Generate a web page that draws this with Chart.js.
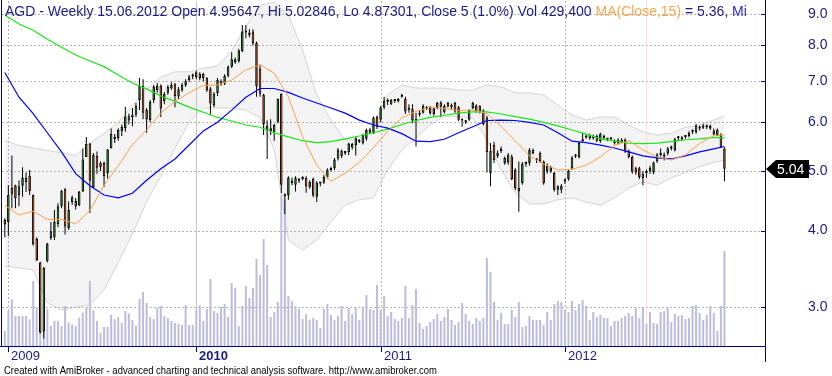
<!DOCTYPE html>
<html>
<head>
<meta charset="utf-8">
<title>AGD - Weekly</title>
<script src="https://cdn.jsdelivr.net/npm/chart.js@4.4.1/dist/chart.umd.min.js"></script>
<style>
html, body { margin: 0; padding: 0; background: #fff; }
#wrap { width: 832px; height: 376px; }
</style>
</head>
<body>
<div id="wrap"><canvas id="chart" width="832" height="376"></canvas></div>
<script>
/*****************************  Data  *********************************/
var yearStarts = [1, 54, 106, 158];
var yearLabels = ['2009', '2010', '2011', '2012'];
var priceTicks = [3, 4, 5, 6, 7, 8, 9];
var selectedWeek = 181;

// weekly candles, 26.12.2008 .. 16.11.2012
var opens = [
	4.16,4.13,4.58,4.74,4.57,4.73,4.80,4.91,4.57,3.88,
	3.55,2.74,3.57,3.89,3.90,4.10,4.38,4.67,4.04,4.45,
	4.47,4.40,4.63,5.27,5.54,4.71,5.29,5.15,5.15,4.96,
	5.45,5.68,5.65,5.80,5.87,6.14,6.12,6.17,6.52,6.88,
	6.29,6.05,6.52,6.77,6.88,6.50,6.70,6.81,6.92,6.61,
	6.77,6.90,7.03,7.12,7.24,7.19,7.19,7.08,6.81,6.40,
	6.69,7.00,6.93,7.14,7.39,7.51,7.55,7.83,8.40,8.32,
	8.43,8.08,7.34,6.65,5.83,5.87,5.79,6.01,6.67,4.57,
	4.56,4.82,4.75,4.82,4.87,4.87,4.71,4.85,4.54,4.77,
	4.79,4.89,5.02,5.05,5.24,5.39,5.35,5.37,5.53,5.51,
	5.58,5.55,5.64,5.84,5.77,6.13,6.06,6.34,6.48,6.52,
	6.50,6.49,6.60,6.55,6.29,6.31,6.03,6.17,6.22,6.35,
	6.35,6.32,6.33,6.46,6.23,6.37,6.35,6.45,6.35,6.05,
	6.01,6.06,6.33,6.39,6.37,6.27,6.11,4.96,5.51,5.29,
	5.44,5.15,5.16,5.28,5.02,4.63,4.78,5.13,5.14,5.41,
	5.20,5.35,5.18,4.99,5.07,4.96,4.66,4.66,4.81,4.85,
	5.05,5.28,5.27,5.59,5.67,5.65,5.70,5.70,5.59,5.66,
	5.62,5.63,5.60,5.55,5.62,5.62,5.39,5.27,5.05,5.05,
	4.87,4.95647,5.00,4.97,5.19,5.31,5.28,5.34,5.44,5.41,
	5.65,5.63,5.68,5.70,5.79,5.78,5.87,5.93,5.90,5.86,
	5.82,5.72,5.72,5.44
];
var highs = [
	4.19,4.74,5.30,4.75,4.83,5.07,4.97,5.02,4.58,3.90,
	3.56,3.49,3.82,4.13,4.32,4.43,4.66,4.69,4.46,4.56,
	4.52,4.64,5.44,5.68,5.55,5.35,5.38,5.18,5.18,5.43,
	5.86,5.74,5.87,5.95,6.36,6.20,6.33,6.45,7.08,7.05,
	6.33,6.52,6.90,6.95,6.92,6.72,6.90,6.97,6.95,6.85,
	6.95,7.05,7.16,7.20,7.28,7.24,7.22,7.10,6.85,6.72,
	7.08,7.05,7.18,7.42,7.80,7.65,7.90,8.64,8.64,8.50,
	8.50,8.12,7.44,6.68,6.04,6.07,5.97,6.56,6.69,4.60,
	4.90,4.88,4.90,4.87,4.90,4.90,4.83,4.88,4.81,4.80,
	4.92,5.05,5.08,5.25,5.45,5.42,5.39,5.56,5.56,5.68,
	5.63,5.75,5.86,5.87,6.13,6.15,6.38,6.60,6.56,6.55,
	6.55,6.57,6.68,6.60,6.42,6.42,6.22,6.28,6.42,6.38,
	6.38,6.35,6.48,6.50,6.42,6.48,6.44,6.48,6.38,6.08,
	6.05,6.30,6.48,6.42,6.40,6.30,6.15,5.55,5.58,5.40,
	5.48,5.28,5.35,5.32,5.05,5.18,5.17,5.18,5.45,5.44,
	5.25,5.38,5.20,5.14,5.10,4.98,4.74,4.76,4.86,5.02,
	5.29,5.33,5.58,5.77,5.72,5.75,5.73,5.73,5.77,5.73,
	5.66,5.67,5.63,5.65,5.65,5.65,5.42,5.30,5.08,5.08,
	5.00,5.02846,5.10,5.18,5.35,5.44,5.36,5.47,5.50,5.66,
	5.70,5.70,5.72,5.80,5.84,5.97,5.93,5.97,5.95,5.95,
	5.86,5.86,5.76,5.46
];
var lows = [
	3.90,3.92,4.35,4.35,4.38,4.54,4.62,4.57,3.78,3.57,
	2.72,2.67,3.55,3.86,3.86,4.05,4.35,3.94,4.01,4.40,
	4.33,4.38,4.62,5.27,4.27,4.69,4.95,5.00,4.71,4.86,
	5.44,5.55,5.60,5.70,5.79,5.95,5.91,6.12,6.28,6.07,
	5.77,6.00,6.45,6.70,6.12,6.42,6.65,6.78,6.35,6.55,
	6.72,6.85,6.98,7.05,7.05,7.02,7.00,6.72,6.17,6.35,
	6.62,6.88,6.90,7.10,7.35,7.47,7.50,7.80,8.22,8.25,
	8.00,6.60,6.60,5.72,5.23,5.72,5.60,5.98,4.60,4.25,
	4.49,4.74,4.63,4.78,4.83,4.61,4.68,4.53,4.45,4.72,
	4.76,4.86,5.00,5.02,5.20,5.25,5.31,5.31,5.42,5.30,
	5.55,5.52,5.60,5.74,5.74,5.85,6.00,6.30,6.40,6.40,
	6.45,6.46,6.58,6.19,6.22,5.98,5.48,6.13,6.20,6.28,
	6.17,6.15,6.30,6.12,6.20,6.34,6.30,6.22,6.03,5.90,
	5.96,6.03,6.30,6.22,6.20,5.93,4.97,4.72,5.15,5.25,
	5.35,5.12,5.12,4.83,4.65,4.29,4.75,5.08,5.10,5.32,
	5.15,5.15,4.75,4.95,4.96,4.63,4.57,4.60,4.76,4.82,
	5.02,5.25,5.24,5.58,5.64,5.62,5.62,5.57,5.56,5.63,
	5.59,5.60,5.52,5.52,5.55,5.35,5.24,4.95,4.93,4.85,
	4.74,4.87301,4.95,4.94,5.15,5.28,5.20,5.30,5.40,5.38,
	5.60,5.60,5.64,5.67,5.74,5.75,5.82,5.85,5.85,5.83,
	5.71,5.70,5.45,4.81
];
var closes = [
	4.09,4.57,4.69,4.52,4.72,4.88,4.87,4.64,3.80,3.58,
	2.73,3.48,3.81,3.99,4.13,4.38,4.64,4.06,4.32,4.53,
	4.38,4.63,5.22,5.53,4.82,5.31,5.06,5.07,4.90,5.42,
	5.74,5.63,5.83,5.90,6.13,6.04,6.13,6.38,6.88,6.22,
	6.07,6.48,6.86,6.88,6.32,6.67,6.85,6.90,6.62,6.79,
	6.90,7.00,7.12,7.13,7.11,7.08,7.08,6.77,6.44,6.67,
	7.03,6.93,7.14,7.39,7.60,7.60,7.85,8.43,8.43,8.40,
	8.07,6.87,6.68,5.96,5.92,5.81,5.94,6.55,4.75,4.55,
	4.88,4.78,4.88,4.83,4.85,4.72,4.80,4.56,4.79,4.78,
	4.89,5.02,5.05,5.22,5.41,5.29,5.36,5.54,5.46,5.65,
	5.59,5.72,5.83,5.77,6.11,5.90,6.34,6.50,6.49,6.43,
	6.51,6.55,6.64,6.25,6.31,6.04,6.04,6.18,6.38,6.31,
	6.21,6.19,6.45,6.36,6.38,6.45,6.40,6.25,6.06,6.04,
	6.00,6.28,6.45,6.25,6.25,5.96,5.37,5.39,5.21,5.35,
	5.39,5.25,5.31,4.85,4.69,4.69,5.14,5.14,5.41,5.35,
	5.21,5.18,4.78,5.11,4.99,4.66,4.72,4.73,4.83,5.00,
	5.26,5.29,5.55,5.63,5.68,5.72,5.65,5.60,5.74,5.70,
	5.63,5.63,5.55,5.62,5.58,5.38,5.27,4.99,4.97,4.89,
	4.95,5.00,5.06,5.16,5.32,5.35,5.32,5.44,5.46,5.63,
	5.66,5.67,5.69,5.77,5.80,5.93,5.86,5.88,5.89,5.92,
	5.74,5.83,5.47,5.04
];
var volumes = [
	289000,674000,899000,578000,578000,578000,578000,514000,1251000,737000,
	700000,900000,706000,385000,481000,481000,385000,770000,449000,417000,
	385000,545000,642000,737000,1251000,687000,481000,256000,366000,366000,
	597000,514000,558000,449000,674000,622000,500000,385000,905000,1040000,
	828000,558000,520000,731000,770000,578000,539000,481000,443000,424000,
	404000,789000,404000,404000,693000,789000,481000,712000,1290000,674000,
	635000,751000,809000,558000,1213000,1117000,385000,770000,1155000,924000,
	1117000,1675000,1367000,2060000,1559000,558000,655000,847000,2900000,2800000,
	963000,866000,770000,712000,520000,616000,500000,539000,500000,346000,
	712000,809000,597000,500000,578000,770000,481000,731000,616000,731000,
	500000,731000,982000,712000,693000,1174000,693000,963000,578000,655000,
	520000,481000,539000,1155000,539000,789000,1097000,443000,327000,385000,
	462000,520000,616000,481000,558000,712000,500000,404000,462000,828000,
	616000,481000,424000,539000,481000,539000,1694000,1425000,847000,500000,
	635000,424000,424000,693000,558000,847000,366000,385000,578000,500000,
	500000,500000,404000,655000,500000,809000,866000,847000,693000,655000,
	866000,693000,809000,886000,770000,500000,655000,558000,597000,539000,
	539000,385000,481000,481000,539000,578000,635000,578000,731000,539000,
	731000,429400,655000,443000,424000,655000,674000,731000,462000,616000,
	578000,597000,520000,539000,770000,789000,635000,500000,597000,770000,
	635000,289000,770000,1829000
];

// overlay lines, read every 4th week
var lineWeeks = [0,4,8,12,16,20,24,28,32,36,40,44,48,52,56,60,64,68,72,76,80,84,88,92,96,100,
	104,108,112,116,120,124,128,132,136,140,144,148,152,156,160,164,168,172,176,180,184,188,192,196,200,203];
var ma15 = [4.40,4.24,4.30,4.17,4.17,4.10,4.31,4.74,5.10,5.52,5.83,6.21,6.49,6.70,6.89,6.90,7.03,7.30,7.44,7.21,
	6.60,5.69,5.11,4.81,4.96,5.16,5.46,5.80,6.10,6.25,6.35,6.32,6.27,6.28,6.20,5.91,5.60,5.29,5.13,5.02,
	5.03,5.11,5.27,5.50,5.60,5.41,5.27,5.21,5.31,5.54,5.71,5.72];
var maBlue = [7.23,6.59,6.20,5.77,5.37,4.95,4.73,4.57,4.52,4.60,4.83,5.04,5.23,5.51,5.81,6.00,6.28,6.59,6.81,6.81,
	6.71,6.57,6.45,6.33,6.21,6.05,5.94,5.87,5.75,5.59,5.58,5.63,5.77,5.90,6.04,6.05,6.04,6.00,5.94,5.77,
	5.59,5.56,5.51,5.45,5.37,5.29,5.25,5.23,5.29,5.37,5.43,5.48];
var maGreen = [8.97,8.67,8.47,8.19,7.95,7.72,7.55,7.39,7.16,6.95,6.80,6.62,6.49,6.35,6.23,6.11,6.03,5.94,5.89,5.77,
	5.68,5.60,5.56,5.58,5.64,5.70,5.77,5.85,5.95,6.04,6.11,6.16,6.21,6.24,6.24,6.19,6.13,6.07,6.00,5.92,
	5.83,5.74,5.64,5.59,5.55,5.54,5.55,5.58,5.62,5.64,5.67,5.66];
var bandUpper = [5.60,5.50,5.45,5.40,5.35,5.30,5.55,5.75,6.00,6.40,6.80,7.10,7.25,7.25,7.35,7.40,7.85,8.60,9.30,9.40,
	8.97,7.87,6.65,6.05,5.62,5.62,5.94,6.65,6.90,6.82,6.82,6.82,6.77,6.77,6.90,6.85,6.70,6.70,6.65,6.40,
	6.17,6.05,6.12,6.12,5.94,5.79,5.72,5.76,5.89,5.94,6.05,6.14];
var bandLower = [3.50,3.48,3.45,3.05,2.97,3.00,3.03,3.20,3.55,3.95,4.45,4.90,5.45,6.00,6.33,6.33,6.33,6.28,6.10,5.41,
	3.86,3.72,3.86,4.13,4.40,4.49,4.52,5.02,5.41,5.66,5.94,6.13,6.13,6.10,5.62,5.02,4.61,4.42,4.42,4.49,
	4.52,4.45,4.40,4.52,4.69,4.80,4.74,4.87,4.98,5.08,5.16,5.21];

var titleText = 'AGD - Weekly 15.06.2012 Open 4.95647, Hi 5.02846, Lo 4.87301, Close 5 (1.0%) Vol 429,400 ';
var footerText = 'Created with AmiBroker - advanced charting and technical analysis software. http://www.amibroker.com';


/***************************  Build datasets  ******************************/
var navy = '#1a1a8a';
var bodyPts = [], wickPts = [], volPts = [], bodyColors = [];
for (var i = 0; i < closes.length; i++) {
	bodyPts.push({ x: i, y: [opens[i], closes[i]] });
	wickPts.push({ x: i, y: [lows[i], highs[i]] });
	volPts.push({ x: i, y: volumes[i] });
	bodyColors.push(closes[i] >= opens[i] ? '#2da82d' : '#f25e1e');
}
function linePts(arr) {
	return lineWeeks.map(function(w, k) { return { x: w, y: arr[k] }; });
}


/***************************  Grid & decorations  *************************/
var amiLayer = {
	id: 'amiLayer',
	// grid goes over the band cloud but under volume and candles
	afterDatasetDraw: function(chart, args) {
		if (args.index !== 1) return;
		var ctx = chart.ctx, a = chart.chartArea;
		var xs = chart.scales.x, ys = chart.scales.y;
		ctx.save();
		ctx.lineWidth = 1;
		ctx.strokeStyle = '#b2b2b2';
		ctx.setLineDash([2, 2]);
		priceTicks.forEach(function(v) {
			var y = Math.round(ys.getPixelForValue(v)) + 0.5;
			ctx.beginPath(); ctx.moveTo(a.left, y); ctx.lineTo(a.right, y); ctx.stroke();
		});
		yearStarts.forEach(function(w, k) {
			var x = Math.round(xs.getPixelForValue(w)) + 0.5;
			ctx.setLineDash(k === 1 ? [] : [2, 2]);
			ctx.strokeStyle = k === 1 ? '#c4c4c4' : '#b2b2b2';
			ctx.beginPath(); ctx.moveTo(x, a.top); ctx.lineTo(x, a.bottom); ctx.stroke();
		});
		ctx.setLineDash([]);
		ctx.strokeStyle = '#ffd8d8';
		var sx = Math.round(xs.getPixelForValue(selectedWeek)) + 0.5;
		ctx.beginPath(); ctx.moveTo(sx, a.top); ctx.lineTo(sx, a.bottom); ctx.stroke();
		ctx.restore();
	},
	afterDraw: function(chart) {
		var ctx = chart.ctx, a = chart.chartArea;
		var xs = chart.scales.x, ys = chart.scales.y;
		ctx.save();

		// frame
		ctx.strokeStyle = '#000080';
		ctx.lineWidth = 1;
		ctx.beginPath();
		ctx.moveTo(1.5, 0); ctx.lineTo(1.5, a.bottom + 0.5);
		ctx.moveTo(0, a.bottom + 0.5); ctx.lineTo(a.right + 0.5, a.bottom + 0.5);
		ctx.moveTo(a.right + 0.5, 0); ctx.lineTo(a.right + 0.5, a.bottom + 16);
		priceTicks.forEach(function(v) {
			var y = Math.round(ys.getPixelForValue(v)) + 0.5;
			ctx.moveTo(a.right - 4, y); ctx.lineTo(a.right, y);
		});
		yearStarts.forEach(function(w) {
			var x = Math.round(xs.getPixelForValue(w)) + 0.5;
			ctx.moveTo(x, a.bottom); ctx.lineTo(x, a.bottom + 6);
		});
		ctx.stroke();

		// year labels
		ctx.fillStyle = navy;
		ctx.textBaseline = 'alphabetic';
		yearStarts.forEach(function(w, k) {
			var x = Math.round(xs.getPixelForValue(w));
			ctx.font = (k === 1 ? 'bold ' : '') + "13px 'Liberation Sans', Arial, sans-serif";
			ctx.fillText(yearLabels[k], x + 3, a.bottom + 14);
		});

		// last price marker
		var last = closes[closes.length - 1];
		var py = Math.round(ys.getPixelForValue(last));
		ctx.fillStyle = '#000';
		ctx.beginPath();
		ctx.moveTo(a.right + 1, py);
		ctx.lineTo(a.right + 11, py - 9);
		ctx.lineTo(a.right + 44, py - 9);
		ctx.lineTo(a.right + 44, py + 9);
		ctx.lineTo(a.right + 11, py + 9);
		ctx.closePath();
		ctx.fill();
		ctx.fillStyle = '#fff';
		ctx.font = "14px 'Liberation Sans', Arial, sans-serif";
		ctx.textBaseline = 'middle';
		ctx.fillText(last.toFixed(2), a.right + 12, py + 1);

		// title
		ctx.save();
		ctx.beginPath();
		ctx.rect(0, 0, a.right - 3, 30);
		ctx.clip();
		ctx.textBaseline = 'alphabetic';
		ctx.font = "14px 'Liberation Sans', Arial, sans-serif";
		var tx = 5;
		[[titleText, navy], ['MA(Close,15)', '#ffa64d'], [' = 5.36, ', navy], ['Mi', '#2b2bd6']].forEach(function(p) {
			ctx.fillStyle = p[1];
			ctx.fillText(p[0], tx, 16);
			tx += ctx.measureText(p[0]).width;
		});
		ctx.restore();

		// footer
		ctx.fillStyle = '#000';
		ctx.font = "11px 'Liberation Sans', Arial, sans-serif";
		ctx.textBaseline = 'alphabetic';
		var fw = ctx.measureText(footerText).width;
		ctx.save();
		ctx.translate(4, 374);
		ctx.scale(433 / fw, 1);
		ctx.fillText(footerText, 0, 0);
		ctx.restore();

		ctx.restore();
	}
};


/******************************  Chart.js  *********************************/
Chart.defaults.font.family = "'Liberation Sans', Arial, sans-serif";

new Chart(document.getElementById('chart'), {
	type: 'bar',
	data: {
		datasets: [
			{ type: 'line', label: 'BBand Top', data: linePts(bandUpper), borderColor: '#d4d4d4', borderWidth: 1,
			  backgroundColor: '#f3f3f3', fill: '+1', pointRadius: 0, order: 20 },
			{ type: 'line', label: 'BBand Bot', data: linePts(bandLower), borderColor: '#d4d4d4', borderWidth: 1,
			  fill: false, pointRadius: 0, order: 19 },
			{ type: 'bar', label: 'Volume', data: volPts, yAxisID: 'yv', backgroundColor: '#bcbcdf',
			  grouped: false, maxBarThickness: 2, order: 15 },
			{ type: 'line', label: 'MA green', data: linePts(maGreen), borderColor: '#19e619', borderWidth: 1.2,
			  pointRadius: 0, order: 5 },
			{ type: 'line', label: 'MA blue', data: linePts(maBlue), borderColor: '#0000ff', borderWidth: 1.2,
			  pointRadius: 0, order: 4 },
			{ type: 'line', label: 'MA(Close,15)', data: linePts(ma15), borderColor: '#ffa04a', borderWidth: 1,
			  pointRadius: 0, order: 3 },
			{ type: 'bar', label: 'Range', data: wickPts, backgroundColor: '#000',
			  grouped: false, maxBarThickness: 1, order: 8 },
			{ type: 'bar', label: 'Price', data: bodyPts, backgroundColor: bodyColors, borderColor: '#000',
			  borderWidth: 1, borderSkipped: false, minBarLength: 2, grouped: false, maxBarThickness: 3, order: 7 }
		]
	},
	options: {
		responsive: false,
		animation: false,
		devicePixelRatio: 1,
		layout: { padding: { left: 2, top: 1, right: 0, bottom: 30 } },
		plugins: { legend: { display: false }, tooltip: { enabled: false } },
		scales: {
			x: { type: 'linear', min: -0.79, max: 214.44, offset: false, grid: { offset: false }, display: false },
			y: {
				type: 'logarithmic', position: 'right', min: 2.596, max: 9.45,
				afterBuildTicks: function(s) { s.ticks = priceTicks.map(function(v) { return { value: v }; }); },
				afterFit: function(s) { s.width = 67; s.paddingTop = 0; s.paddingBottom = 0; },
				grid: { display: false, drawTicks: false },
				border: { display: false },
				ticks: {
					padding: 43, color: navy, autoSkip: false, font: { size: 14 },
					callback: function(v) { return Number(v).toFixed(1); }
				}
			},
			yv: { type: 'linear', display: false, min: 0, max: 6640000 }
		}
	},
	plugins: [amiLayer]
});
</script>
</body>
</html>
